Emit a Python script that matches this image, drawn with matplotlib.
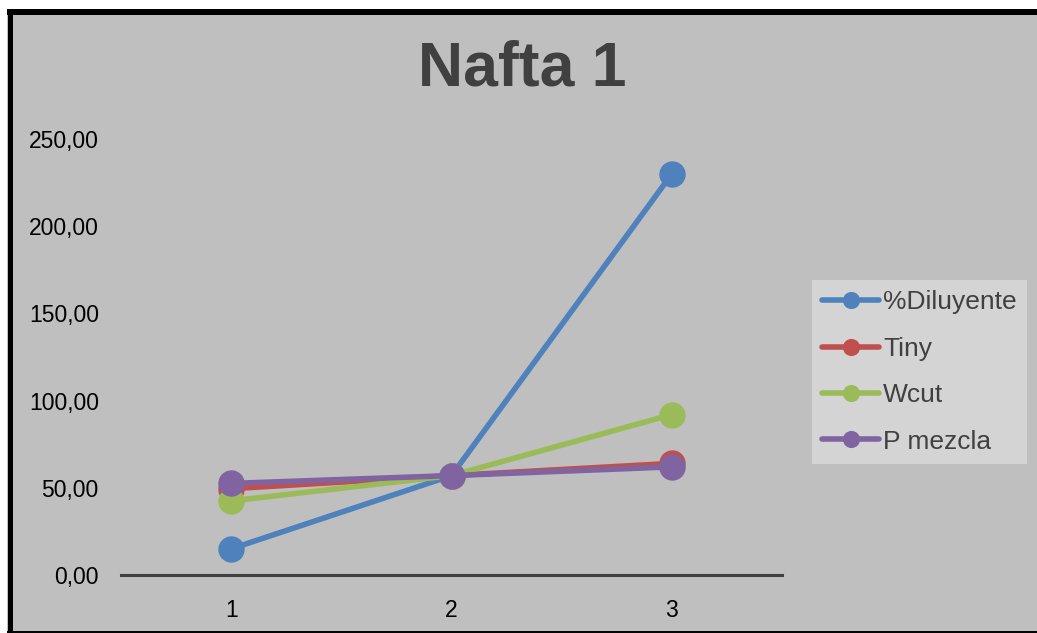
import matplotlib
matplotlib.use("Agg")
import matplotlib.pyplot as plt
from matplotlib.lines import Line2D
from matplotlib.patches import Rectangle

plt.rcParams['font.family'] = ['Liberation Sans', 'DejaVu Sans']

# Data
categories = [1, 2, 3]
series_names = ["%Diluyente", "Tiny", "Wcut", "P mezcla"]
diluyente = [15.0, 57.0, 230.0]
tiny = [49.5, 57.0, 64.0]
wcut = [42.5, 57.0, 92.0]
p_mezcla = [52.5, 57.0, 62.0]
series_values = [diluyente, tiny, wcut, p_mezcla]
colors = ["#4F81BD", "#C0504D", "#9BBB59", "#8064A2"]
y_ticks = [0, 50, 100, 150, 200, 250]
y_tick_labels = ["0,00", "50,00", "100,00", "150,00", "200,00", "250,00"]

W, H = 1037, 633
fig = plt.figure(figsize=(W / 100, H / 100), dpi=100, facecolor="white")


def fx(px):
    return px / W


def fy(py):
    return 1 - py / H


# chart area background and frame
fig.add_artist(Rectangle((fx(7), 0), 1 - fx(7), fy(9), transform=fig.transFigure,
                         facecolor="#BFBFBF", edgecolor="none", zorder=0))
fig.add_artist(Line2D([fx(7), 1], [fy(12), fy(12)], transform=fig.transFigure,
                      color="black", linewidth=4.3, solid_capstyle="butt"))
fig.add_artist(Line2D([fx(9.5), fx(9.5)], [fy(9), 0], transform=fig.transFigure,
                      color="black", linewidth=3.6, solid_capstyle="butt"))
fig.add_artist(Line2D([fx(7), 1], [fy(632), fy(632)], transform=fig.transFigure,
                      color="black", linewidth=1.4, solid_capstyle="butt"))

ax = fig.add_axes([fx(121), fy(575), fx(782) - fx(121), fy(139) - fy(575)])
ax.set_facecolor("none")

for name, vals, c in zip(series_names, series_values, colors):
    ax.plot(categories, vals, color=c, linewidth=4.0, marker="o",
            markersize=19, markeredgewidth=0, label=name, solid_capstyle="round")

ax.set_xlim(0.5, 3.5)
ax.set_ylim(0, 250)
ax.set_xticks(categories)
ax.set_xticklabels([str(c) for c in categories])
ax.set_yticks(y_ticks)
ax.set_yticklabels(y_tick_labels)
ax.tick_params(axis="both", length=0, labelsize=16.5, colors="black")
ax.tick_params(axis="x", pad=17)
ax.tick_params(axis="y", pad=16)

for s in ["top", "right", "left"]:
    ax.spines[s].set_visible(False)
ax.spines["bottom"].set_color("#404040")
ax.spines["bottom"].set_linewidth(2.2)
ax.spines["bottom"].set_zorder(0.5)

fig.text(fx(522), fy(69), "Nafta 1", fontsize=45, fontweight="bold",
         color="#404040", ha="center", va="center")

leg = ax.legend(loc="center", bbox_to_anchor=(fx(919.5), fy(372)),
                bbox_transform=fig.transFigure, fontsize=19,
                frameon=True, fancybox=False, framealpha=1,
                facecolor="#D4D4D4", edgecolor="none",
                handlelength=2.15, handletextpad=0.15, labelspacing=0.85,
                borderpad=0.38, markerscale=0.65)
for t in leg.get_texts():
    t.set_color("#404040")

fig.savefig("out.png", dpi=100, facecolor="white")
